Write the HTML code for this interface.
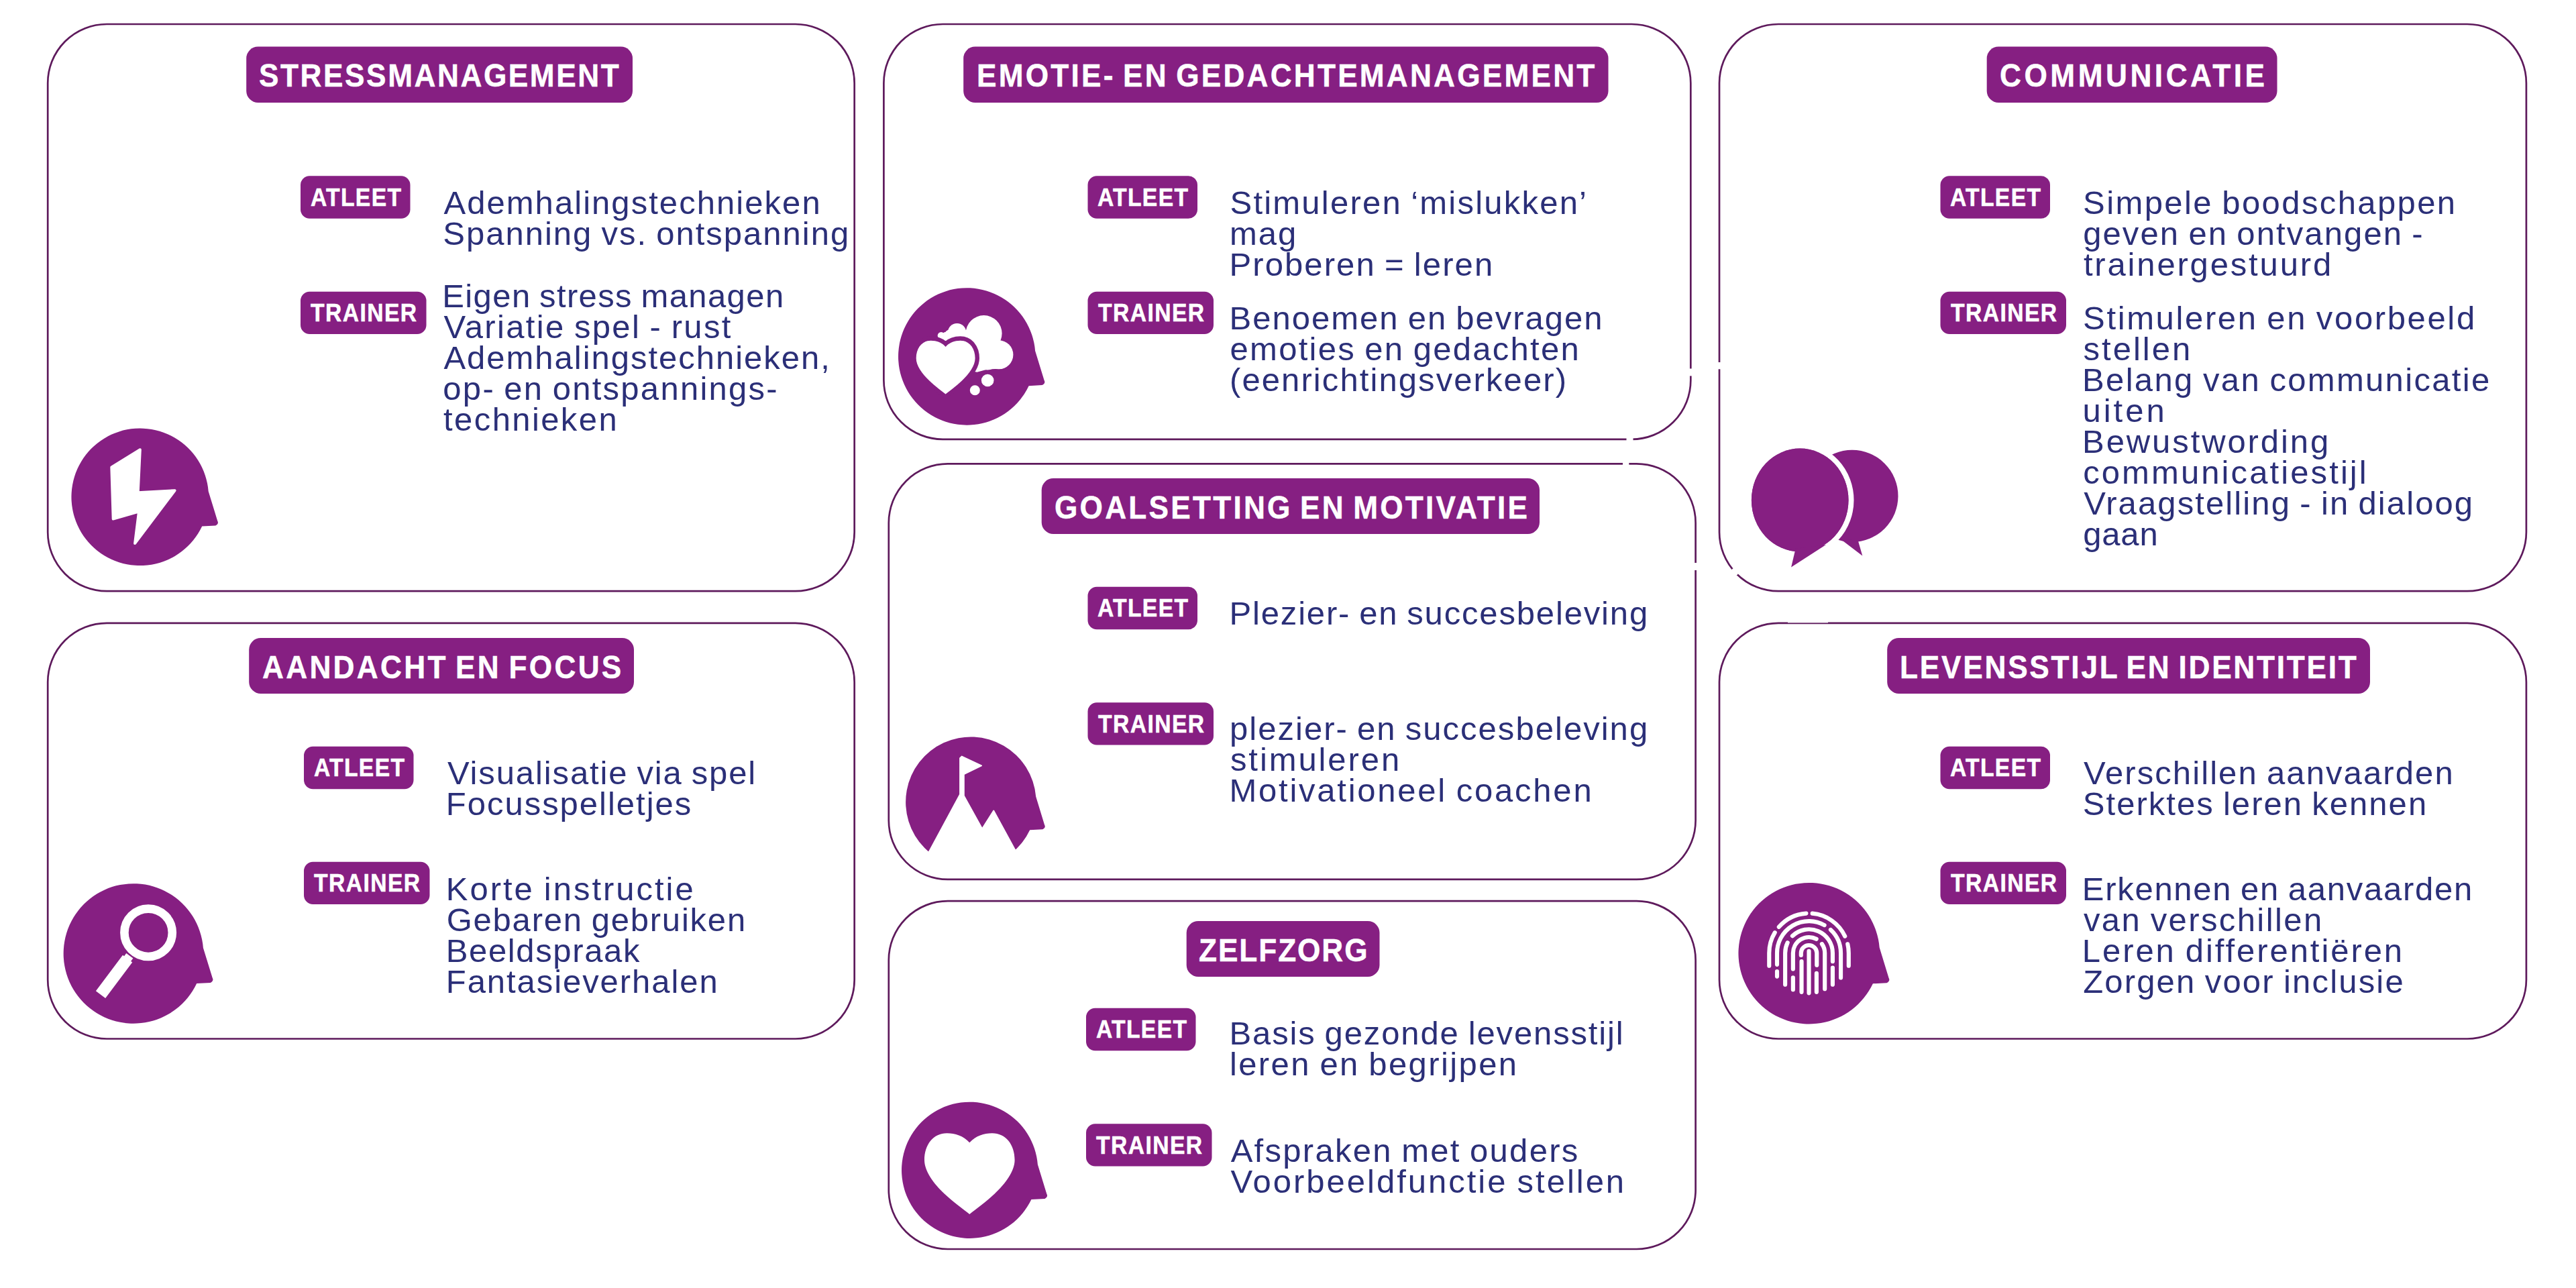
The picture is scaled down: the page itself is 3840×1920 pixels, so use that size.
<!DOCTYPE html>
<html lang="nl"><head><meta charset="utf-8"><title>Mentale vaardigheden</title>
<style>
html,body{margin:0;padding:0;background:#fff;}
body{width:3840px;height:1920px;position:relative;overflow:hidden;font-family:"Liberation Sans",sans-serif;}
h2,p{margin:0;padding:0;}
.t{position:absolute;white-space:nowrap;color:#2b2f78;font-size:49.0px;line-height:49.0px;height:49.0px;}
.h{-webkit-text-stroke:0.5px #fff;transform-origin:0 0;position:absolute;white-space:nowrap;color:#fff;font-weight:bold;font-size:48.0px;line-height:48.0px;height:48.0px;}
.l{-webkit-text-stroke:0.55px #fff;transform-origin:0 0;position:absolute;white-space:nowrap;color:#fff;font-weight:bold;font-size:36.6px;line-height:36.6px;height:36.6px;}
svg{position:absolute;left:0;top:0;overflow:visible;}
</style></head>
<body>
<svg width="3840" height="1920" viewBox="0 0 3840 1920">
<rect x="71.20" y="36.00" width="1202.50" height="845.20" rx="88" ry="88" fill="#fff" stroke="#5e1a5c" stroke-width="2.7"/>
<rect x="71.20" y="928.80" width="1202.50" height="619.70" rx="88" ry="88" fill="#fff" stroke="#5e1a5c" stroke-width="2.7"/>
<rect x="1317.40" y="36.00" width="1202.90" height="618.80" rx="88" ry="88" fill="#fff" stroke="#5e1a5c" stroke-width="2.7"/>
<rect x="1324.80" y="691.40" width="1202.80" height="619.50" rx="88" ry="88" fill="#fff" stroke="#5e1a5c" stroke-width="2.7"/>
<rect x="1324.80" y="1343.20" width="1202.80" height="518.80" rx="88" ry="88" fill="#fff" stroke="#5e1a5c" stroke-width="2.7"/>
<rect x="2563.00" y="36.00" width="1202.90" height="845.20" rx="88" ry="88" fill="#fff" stroke="#5e1a5c" stroke-width="2.7"/>
<rect x="2563.00" y="928.80" width="1202.90" height="619.70" rx="88" ry="88" fill="#fff" stroke="#5e1a5c" stroke-width="2.7"/>
<rect x="367.2" y="69.5" width="575.8" height="83.5" rx="17.5" fill="#861f82"/>
<rect x="371.2" y="951" width="573.8" height="83" rx="17.5" fill="#861f82"/>
<rect x="1436.2" y="69.5" width="961.3" height="83.5" rx="17.5" fill="#861f82"/>
<rect x="1552.7" y="713" width="742.3" height="83" rx="17.5" fill="#861f82"/>
<rect x="1768.7" y="1373" width="287.8" height="83" rx="17.5" fill="#861f82"/>
<rect x="2961.7" y="69.5" width="432.8" height="83.5" rx="17.5" fill="#861f82"/>
<rect x="2813.2" y="951" width="719.8" height="83" rx="17.5" fill="#861f82"/>
<rect x="448" y="262.3" width="163.5" height="63.4" rx="13.5" fill="#861f82"/>
<rect x="448" y="434.8" width="187.5" height="63.2" rx="13.5" fill="#861f82"/>
<rect x="453" y="1112.8" width="163.5" height="63.4" rx="13.5" fill="#861f82"/>
<rect x="453" y="1284.8" width="187.5" height="63.2" rx="13.5" fill="#861f82"/>
<rect x="1621.5" y="262.3" width="163.5" height="63.4" rx="13.5" fill="#861f82"/>
<rect x="1621.5" y="434.8" width="187.5" height="63.2" rx="13.5" fill="#861f82"/>
<rect x="1621.5" y="874.8" width="163.5" height="63.4" rx="13.5" fill="#861f82"/>
<rect x="1621.5" y="1047.3" width="187.5" height="63.2" rx="13.5" fill="#861f82"/>
<rect x="1619" y="1502.8" width="163.5" height="63.4" rx="13.5" fill="#861f82"/>
<rect x="1619" y="1675.3" width="187.5" height="63.2" rx="13.5" fill="#861f82"/>
<rect x="2892.5" y="262.3" width="163.5" height="63.4" rx="13.5" fill="#861f82"/>
<rect x="2892.5" y="434.8" width="187.5" height="63.2" rx="13.5" fill="#861f82"/>
<rect x="2892.5" y="1112.8" width="163.5" height="63.4" rx="13.5" fill="#861f82"/>
<rect x="2892.5" y="1284.8" width="187.5" height="63.2" rx="13.5" fill="#861f82"/>
<g fill="#fff">
<rect x="2559" y="540" width="8" height="10.3"/>
<rect x="2516.3" y="549.5" width="8" height="10.9"/>
<rect x="2424.5" y="651" width="10" height="8"/>
<rect x="2419" y="687.5" width="9.3" height="8"/>
<rect x="2523.6" y="839" width="8" height="11"/>
<circle cx="2586.3" cy="852.2" r="5.6"/>
<rect x="2665" y="925" width="60" height="3.4"/>
</g>
</svg>
<section>
<h2 class="h" style="left:385.76px;top:89.17px;letter-spacing:2.798px;transform:scaleX(0.92);word-spacing:-4.5px;">STRESSMANAGEMENT</h2>
<span class="l" style="left:462.54px;top:276.92px;letter-spacing:1.434px;transform:scaleX(0.92);">ATLEET</span>
<p class="t" style="left:661.45px;top:278.12px;letter-spacing:2.045px;word-spacing:-2.5px;">Ademhalingstechnieken</p>
<p class="t" style="left:660.29px;top:324.12px;letter-spacing:1.997px;word-spacing:-2.5px;">Spanning vs. ontspanning</p>
<span class="l" style="left:463.48px;top:449.42px;letter-spacing:1.540px;transform:scaleX(0.92);">TRAINER</span>
<p class="t" style="left:659.29px;top:417.12px;letter-spacing:1.384px;word-spacing:-2.5px;">Eigen stress managen</p>
<p class="t" style="left:661.39px;top:463.12px;letter-spacing:2.327px;word-spacing:-2.5px;">Variatie spel - rust</p>
<p class="t" style="left:661.45px;top:509.12px;letter-spacing:1.978px;word-spacing:-2.5px;">Ademhalingstechnieken,</p>
<p class="t" style="left:660.37px;top:555.12px;letter-spacing:2.258px;word-spacing:-2.5px;">op- en ontspannings-</p>
<p class="t" style="left:661.10px;top:601.12px;letter-spacing:2.393px;word-spacing:-2.5px;">technieken</p>
</section>
<section>
<h2 class="h" style="left:390.94px;top:971.17px;letter-spacing:3.594px;transform:scaleX(0.92);word-spacing:-4.5px;">AANDACHT EN FOCUS</h2>
<span class="l" style="left:467.54px;top:1127.42px;letter-spacing:1.434px;transform:scaleX(0.92);">ATLEET</span>
<p class="t" style="left:666.89px;top:1128.12px;letter-spacing:1.882px;word-spacing:-2.5px;">Visualisatie via spel</p>
<p class="t" style="left:664.79px;top:1174.12px;letter-spacing:1.983px;word-spacing:-2.5px;">Focusspelletjes</p>
<span class="l" style="left:468.48px;top:1299.42px;letter-spacing:1.540px;transform:scaleX(0.92);">TRAINER</span>
<p class="t" style="left:664.79px;top:1300.62px;letter-spacing:2.971px;word-spacing:-2.5px;">Korte instructie</p>
<p class="t" style="left:665.65px;top:1346.62px;letter-spacing:1.780px;word-spacing:-2.5px;">Gebaren gebruiken</p>
<p class="t" style="left:664.79px;top:1392.62px;letter-spacing:1.621px;word-spacing:-2.5px;">Beeldspraak</p>
<p class="t" style="left:664.79px;top:1438.62px;letter-spacing:1.930px;word-spacing:-2.5px;">Fantasieverhalen</p>
</section>
<section>
<h2 class="h" style="left:1455.59px;top:89.17px;letter-spacing:3.516px;transform:scaleX(0.92);word-spacing:-4.5px;">EMOTIE- EN GEDACHTEMANAGEMENT</h2>
<span class="l" style="left:1636.04px;top:276.92px;letter-spacing:1.434px;transform:scaleX(0.92);">ATLEET</span>
<p class="t" style="left:1833.49px;top:278.12px;letter-spacing:2.217px;word-spacing:-2.5px;">Stimuleren ‘mislukken’</p>
<p class="t" style="left:1832.92px;top:324.12px;letter-spacing:1.951px;word-spacing:-2.5px;">mag</p>
<p class="t" style="left:1832.49px;top:370.12px;letter-spacing:2.085px;word-spacing:-2.5px;">Proberen = leren</p>
<span class="l" style="left:1636.98px;top:449.42px;letter-spacing:1.540px;transform:scaleX(0.92);">TRAINER</span>
<p class="t" style="left:1832.49px;top:450.12px;letter-spacing:2.004px;word-spacing:-2.5px;">Benoemen en bevragen</p>
<p class="t" style="left:1833.57px;top:496.12px;letter-spacing:2.258px;word-spacing:-2.5px;">emoties en gedachten</p>
<p class="t" style="left:1833.03px;top:542.12px;letter-spacing:2.088px;word-spacing:-2.5px;">(eenrichtingsverkeer)</p>
</section>
<section>
<h2 class="h" style="left:1571.69px;top:732.67px;letter-spacing:3.527px;transform:scaleX(0.92);word-spacing:-4.5px;">GOALSETTING EN MOTIVATIE</h2>
<span class="l" style="left:1636.04px;top:889.42px;letter-spacing:1.434px;transform:scaleX(0.92);">ATLEET</span>
<p class="t" style="left:1832.49px;top:890.12px;letter-spacing:1.832px;word-spacing:-2.5px;">Plezier- en succesbeleving</p>
<span class="l" style="left:1636.98px;top:1061.92px;letter-spacing:1.540px;transform:scaleX(0.92);">TRAINER</span>
<p class="t" style="left:1832.98px;top:1062.12px;letter-spacing:2.030px;word-spacing:-2.5px;">plezier- en succesbeleving</p>
<p class="t" style="left:1833.97px;top:1107.62px;letter-spacing:2.905px;word-spacing:-2.5px;">stimuleren</p>
<p class="t" style="left:1832.49px;top:1153.62px;letter-spacing:2.753px;word-spacing:-2.5px;">Motivationeel coachen</p>
</section>
<section>
<h2 class="h" style="left:1787.22px;top:1392.67px;letter-spacing:2.107px;transform:scaleX(0.92);word-spacing:-4.5px;">ZELFZORG</h2>
<span class="l" style="left:1633.54px;top:1517.42px;letter-spacing:1.434px;transform:scaleX(0.92);">ATLEET</span>
<p class="t" style="left:1832.49px;top:1516.12px;letter-spacing:1.866px;word-spacing:-2.5px;">Basis gezonde levensstijl</p>
<p class="t" style="left:1832.89px;top:1562.12px;letter-spacing:2.409px;word-spacing:-2.5px;">leren en begrijpen</p>
<span class="l" style="left:1634.48px;top:1689.92px;letter-spacing:1.540px;transform:scaleX(0.92);">TRAINER</span>
<p class="t" style="left:1834.65px;top:1691.12px;letter-spacing:2.277px;word-spacing:-2.5px;">Afspraken met ouders</p>
<p class="t" style="left:1834.59px;top:1736.62px;letter-spacing:2.988px;word-spacing:-2.5px;">Voorbeeldfunctie stellen</p>
</section>
<section>
<h2 class="h" style="left:2980.69px;top:89.17px;letter-spacing:4.937px;transform:scaleX(0.92);word-spacing:-4.5px;">COMMUNICATIE</h2>
<span class="l" style="left:2907.04px;top:276.92px;letter-spacing:1.434px;transform:scaleX(0.92);">ATLEET</span>
<p class="t" style="left:3105.09px;top:278.12px;letter-spacing:2.389px;word-spacing:-2.5px;">Simpele boodschappen</p>
<p class="t" style="left:3105.17px;top:324.12px;letter-spacing:2.102px;word-spacing:-2.5px;">geven en ontvangen -</p>
<p class="t" style="left:3105.90px;top:370.12px;letter-spacing:2.833px;word-spacing:-2.5px;">trainergestuurd</p>
<span class="l" style="left:2907.98px;top:449.42px;letter-spacing:1.540px;transform:scaleX(0.92);">TRAINER</span>
<p class="t" style="left:3105.09px;top:450.12px;letter-spacing:2.632px;word-spacing:-2.5px;">Stimuleren en voorbeeld</p>
<p class="t" style="left:3105.57px;top:496.12px;letter-spacing:2.988px;word-spacing:-2.5px;">stellen</p>
<p class="t" style="left:3104.09px;top:542.12px;letter-spacing:2.318px;word-spacing:-2.5px;">Belang van communicatie</p>
<p class="t" style="left:3104.58px;top:588.12px;letter-spacing:3.953px;word-spacing:-2.5px;">uiten</p>
<p class="t" style="left:3104.09px;top:634.12px;letter-spacing:2.898px;word-spacing:-2.5px;">Bewustwording</p>
<p class="t" style="left:3105.17px;top:680.12px;letter-spacing:3.095px;word-spacing:-2.5px;">communicatiestijl</p>
<p class="t" style="left:3106.19px;top:726.12px;letter-spacing:2.106px;word-spacing:-2.5px;">Vraagstelling - in dialoog</p>
<p class="t" style="left:3105.17px;top:772.12px;letter-spacing:0.823px;word-spacing:-2.5px;">gaan</p>
</section>
<section>
<h2 class="h" style="left:2832.09px;top:971.17px;letter-spacing:3.021px;transform:scaleX(0.92);word-spacing:-4.5px;">LEVENSSTIJL EN IDENTITEIT</h2>
<span class="l" style="left:2907.04px;top:1127.42px;letter-spacing:1.434px;transform:scaleX(0.92);">ATLEET</span>
<p class="t" style="left:3105.89px;top:1128.12px;letter-spacing:2.088px;word-spacing:-2.5px;">Verschillen aanvaarden</p>
<p class="t" style="left:3104.79px;top:1174.12px;letter-spacing:2.034px;word-spacing:-2.5px;">Sterktes leren kennen</p>
<span class="l" style="left:2907.98px;top:1299.42px;letter-spacing:1.540px;transform:scaleX(0.92);">TRAINER</span>
<p class="t" style="left:3103.79px;top:1300.62px;letter-spacing:1.716px;word-spacing:-2.5px;">Erkennen en aanvaarden</p>
<p class="t" style="left:3105.92px;top:1346.62px;letter-spacing:2.402px;word-spacing:-2.5px;">van verschillen</p>
<p class="t" style="left:3103.79px;top:1392.62px;letter-spacing:2.936px;word-spacing:-2.5px;">Leren differentiëren</p>
<p class="t" style="left:3105.16px;top:1438.62px;letter-spacing:2.173px;word-spacing:-2.5px;">Zorgen voor inclusie</p>
</section>
<svg width="3840" height="1920" viewBox="0 0 3840 1920">
<path fill="#861f82" d="M301.2,784.6 A102.3,102.3 0 1 1 310.7,732.4 L324.2,776.4 Q326.6,780.8 321.3,783.6 Z"/>
<polygon fill="#fff" stroke="#fff" stroke-width="4" stroke-linejoin="round" points="208.8,670.3 166.3,696.4 168.7,773.6 207.0,762.7 201.1,810.0 260.5,731.2 205.7,734.3"/>
<path fill="#861f82" d="M293.2,1466.1 A104.3,104.3 0 1 1 302.9,1412.9 L316.7,1457.7 Q319.1,1462.2 313.7,1465.0 Z"/>
<circle cx="221.1" cy="1390.3" r="35.7" fill="none" stroke="#fff" stroke-width="12.6"/>
<line x1="190.1" y1="1429.1" x2="150.0" y2="1482.7" stroke="#fff" stroke-width="17.8" stroke-linecap="butt"/>
<line x1="193.3" y1="1424.7" x2="186.5" y2="1434.0" stroke="#fff" stroke-width="12.5"/>
<path fill="#861f82" d="M1533.6,575.2 A102.2,102.2 0 1 1 1543.1,523.0 L1556.6,567.0 Q1559.0,571.4 1553.7,574.1 Z"/>
<g fill="#fff">
<circle cx="1426.6" cy="495.7" r="13.8"/>
<circle cx="1466.6" cy="497.1" r="27.0"/>
<circle cx="1488.9" cy="528.8" r="21.5"/>
<circle cx="1403.0" cy="500.3" r="5.3"/>
<circle cx="1410.6" cy="501.9" r="7.2"/>
<circle cx="1416.8" cy="500.3" r="9.2"/>
<circle cx="1451.5" cy="520.8" r="30.7"/>
<circle cx="1472.0" cy="531.0" r="20.4"/>
<polygon points="1400.4,505.4 1420.9,497.3 1472.0,510.6 1494.4,549.4 1472.0,550.4 1456.4,554.8 1441.3,551.4"/>
<circle cx="1472.2" cy="567.0" r="9.3"/>
<circle cx="1453.3" cy="581.8" r="7.5"/>
</g>
<path d="M1409.6,516.9 C1403.5,510.1 1395.6,507.7 1387.6,507.7 C1374.5,507.7 1365.7,518.9 1365.7,534.0 C1365.7,545.2 1374.5,557.1 1385.4,567.5 C1393.8,575.5 1404.3,583.4 1409.6,587.4 L1409.6,516.9 M1409.6,516.9 C1415.8,510.1 1423.7,507.7 1431.6,507.7 C1444.8,507.7 1453.6,518.9 1453.6,534.0 C1453.6,545.2 1444.8,557.1 1433.9,567.5 C1425.4,575.5 1414.9,583.4 1409.6,587.4 L1409.6,516.9 Z" fill="#fff" stroke-linejoin="round" stroke="#861f82" stroke-width="12.8" paint-order="stroke"/>
<path fill="#861f82" d="M1535.2,1237.2 A97.2,97.2 0 1 1 1544.2,1187.6 L1557.0,1229.4 Q1559.4,1233.6 1554.3,1236.2 Z"/>
<clipPath id="c4"><circle cx="1447.4" cy="1195.2" r="99.2"/></clipPath>
<polygon clip-path="url(#c4)" fill="#fff" stroke="#fff" stroke-width="2" stroke-linejoin="round" points="1384.3,1271.0 1431.1,1184.3 1431.1,1130.3 1433.7,1127.6 1463.0,1141.4 1436.8,1154.1 1436.8,1186.2 1464.1,1235.5 1481.2,1208.5 1513.9,1268.6 1544.6,1316.7 1350.2,1316.7"/>
<path fill="#861f82" d="M1537.4,1787.9 A101.6,101.6 0 1 1 1546.9,1736.1 L1560.3,1779.8 Q1562.7,1784.1 1557.5,1786.9 Z"/>
<path d="M1445.3,1703.2 C1435.9,1692.9 1423.8,1689.2 1411.6,1689.2 C1391.4,1689.2 1378.0,1706.1 1378.0,1729.1 C1378.0,1746.0 1391.4,1764.1 1408.1,1779.8 C1421.1,1791.8 1437.2,1803.9 1445.3,1809.9 L1445.3,1703.2 M1445.3,1703.2 C1454.7,1692.9 1466.8,1689.2 1478.9,1689.2 C1499.1,1689.2 1512.6,1706.1 1512.6,1729.1 C1512.6,1746.0 1499.1,1764.1 1482.4,1779.8 C1469.5,1791.8 1453.4,1803.9 1445.3,1809.9 L1445.3,1703.2 Z" fill="#fff" stroke-linejoin="round" />
<g fill="#861f82"><circle cx="2760.9" cy="739.4" r="68.6"/><polygon points="2769.8,806 2776.3,828.5 2742.8,803"/></g>
<g fill="#861f82" stroke="#fff" stroke-width="16" paint-order="stroke"><ellipse cx="2683.2" cy="745.5" rx="72.3" ry="76.9"/></g>
<g fill="#861f82"><ellipse cx="2683.2" cy="745.5" rx="72.3" ry="76.9"/><polygon points="2676.6,818 2670.1,845.6 2722,812"/></g>
<path fill="#861f82" d="M2791.9,1466.3 A105.3,105.3 0 1 1 2801.7,1412.6 L2815.6,1457.9 Q2818.0,1462.4 2812.6,1465.2 Z"/>
<path d="M2637.25,1439.72 L2637.25,1420.71 A59.27,59.27 0 0 1 2645.72,1390.18 M2651.79,1381.82 A59.27,59.27 0 0 1 2692.39,1361.58 M2701.69,1361.67 A59.27,59.27 0 0 1 2750.23,1395.66 M2754.27,1407.37 A59.27,59.27 0 0 1 2755.79,1420.71 L2755.79,1439.72 M2649.00,1437.85 L2649.00,1420.71 A47.52,47.52 0 0 1 2719.56,1379.14 M2649.00,1448.10 L2649.00,1455.56 M2728.93,1385.95 A47.52,47.52 0 0 1 2744.05,1420.71 L2744.05,1457.42 M2661.11,1467.67 L2661.11,1420.71 A35.41,35.41 0 0 1 2664.69,1405.18 M2671.92,1395.23 A35.41,35.41 0 0 1 2731.93,1420.71 L2731.93,1433.19 M2731.93,1442.51 L2731.93,1467.67 M2672.85,1444.38 L2672.85,1420.71 A23.67,23.67 0 0 1 2707.63,1399.81 M2672.85,1457.42 L2672.85,1475.13 M2715.91,1407.13 A23.67,23.67 0 0 1 2720.19,1420.71 L2720.19,1474.20 M2684.78,1423.88 L2684.78,1420.71 A11.74,11.74 0 0 1 2708.26,1420.71 L2708.26,1438.78 M2685.52,1433.19 L2685.52,1478.85 M2707.89,1450.90 L2707.89,1478.85 M2696.52,1417.72 L2696.52,1480.35" fill="none" stroke="#fff" stroke-width="6.15" stroke-linecap="round"/>
</svg>
</body></html>
